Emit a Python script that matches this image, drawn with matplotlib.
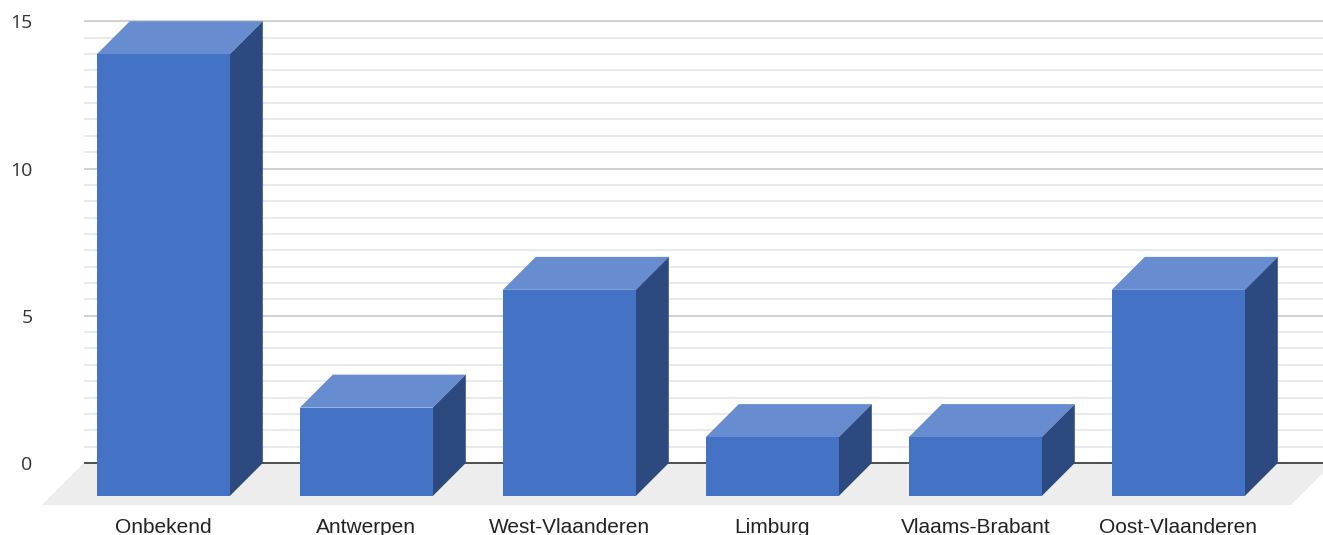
import numpy as np
import matplotlib
matplotlib.use("Agg")
import matplotlib.pyplot as plt
from matplotlib.patches import Polygon

# data
provinces = ["Onbekend", "Antwerpen", "West-Vlaanderen", "Limburg", "Vlaams-Brabant", "Oost-Vlaanderen"]
counts = [15, 3, 7, 2, 2, 7]
y_ticks = [0, 5, 10, 15]

# layout, in pixels of the 1323x535 picture
W, H = 1323, 535
PX_LEFT, PX_FLOOR, PX_ZERO = 84, 505, 463
PX_PER_UNIT = 29.45   # y scale
PX_PER_BAR = 203      # x scale
FIRST_CENTER = 163.3
DEPTH = 33            # how far the front face sits in front of the wall

FRONT = "#4472C4"
TOP = "#678CCF"
SIDE = "#2C4A80"
FLOOR = "#EDEDED"

dx = DEPTH / PX_PER_BAR
dy = DEPTH / PX_PER_UNIT
bar_w = 133 / PX_PER_BAR
floor_dx = 42 / PX_PER_BAR
floor_dy = (PX_FLOOR - PX_ZERO) / PX_PER_UNIT

fig = plt.figure(figsize=(W / 100, H / 100), dpi=100)
ax = fig.add_axes([PX_LEFT / W, (H - PX_FLOOR) / H, (W - PX_LEFT) / W, PX_FLOOR / H])
ax.set_xlim((PX_LEFT - FIRST_CENTER) / PX_PER_BAR, (W - FIRST_CENTER) / PX_PER_BAR)
ax.set_ylim(-floor_dy, PX_ZERO / PX_PER_UNIT)

# wall grid, 9 minor steps per major step
for v in np.linspace(0, max(y_ticks), 28):
    ax.axhline(v, color="#E8E8E8", lw=1.3, zorder=1)
for v in y_ticks[1:]:
    ax.axhline(v, color="#CFCFCF", lw=1.3, zorder=1)

# floor
fl, fr = (42 - FIRST_CENTER) / PX_PER_BAR, (1291 - FIRST_CENTER) / PX_PER_BAR
ax.add_patch(Polygon([(fl, -floor_dy), (fr, -floor_dy), (fr + floor_dx, 0), (fl + floor_dx, 0)],
                     closed=True, fc=FLOOR, ec="none", zorder=2, clip_on=False))
ax.axhline(0, color="#333333", lw=1.2, zorder=3)

# bars: front face is shifted down-left from the value on the wall
x = np.arange(len(provinces))
ax.bar(x, counts, width=bar_w, bottom=-dy, color=FRONT, zorder=5)
for xi, v in zip(x, counts):
    left, right = xi - bar_w / 2, xi + bar_w / 2
    front_top = v - dy
    ax.add_patch(Polygon([(left, front_top), (right, front_top), (right + dx, v), (left + dx, v)],
                         closed=True, fc=TOP, ec="none", zorder=4))
    ax.add_patch(Polygon([(right, -dy), (right + dx, 0), (right + dx, v), (right, front_top)],
                         closed=True, fc=SIDE, ec="none", zorder=4))

ax.set_xticks(x)
ax.set_xticklabels(provinces, family="Liberation Sans", fontsize=15, color="#222222")
ax.set_yticks(y_ticks)
ax.set_yticklabels([str(t) for t in y_ticks], family="Open Sans", fontsize=14, color="#333333")
ax.tick_params(axis="both", length=0)
ax.tick_params(axis="x", pad=9.5)
ax.tick_params(axis="y", pad=37)
for s in ax.spines.values():
    s.set_visible(False)

fig.savefig("out.png", dpi=100)
